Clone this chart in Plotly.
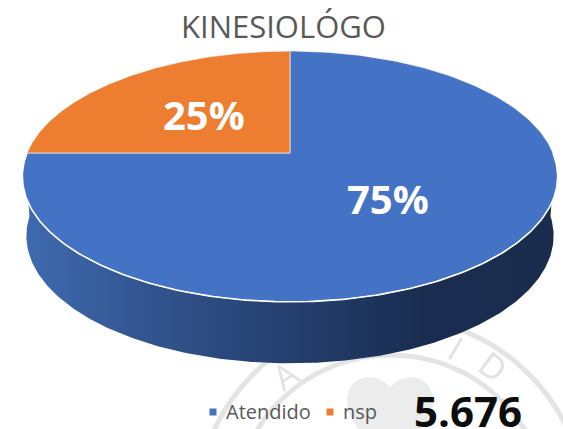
import numpy as np
import plotly.graph_objects as go

categories = ["Atendido", "nsp"]
values = [75, 25]
colors = ["#4472C4", "#ED7D31"]
title_text = "KINESIOLÓGO"
total_label = "5.676"
W, H = 563, 429
FONT = "Open Sans"

# Projection of the unit disc to the page (perspective view of a tilted pie)
def project(u, v, cx=290.0, cy=153.0, a=263.0, b=121.0, k=0.187):
    d = 1 + k * v
    return cx + a * u / d, cy - b * v / d

def rim(t0, t1, n=240, **kw):
    t = np.radians(np.linspace(t0, t1, n))
    return project(np.sin(t), np.cos(t), **kw)

fig = go.Figure()

# watermark (very pale, behind the pie)
WM = "#e4e4e4"
shapes = [
    dict(type="circle", xref="x", yref="y", x0=196, x1=586, y0=317, y1=707,
         line=dict(color=WM, width=5), layer="below"),
    dict(type="circle", xref="x", yref="y", x0=234, x1=548, y0=355, y1=669,
         line=dict(color=WM, width=5), layer="below"),
    dict(type="path", xref="x", yref="y", layer="below", fillcolor="#ececec",
         line=dict(width=0),
         path="M 390 388 C 380 372 347 372 347 402 C 347 428 380 445 390 460 "
              "C 400 445 433 428 433 402 C 433 372 400 372 390 388 Z"),
]

# side wall of the pie (front half): upper rim, then lower rim back
BOTTOM = dict(cy=212.0, a=259.0, b=123.0, k=0.187)
xt, yt = rim(92, 268)
xb, yb = rim(268, 92, **BOTTOM)
fig.add_trace(go.Scatter(
    x=np.r_[xt, xb], y=np.r_[yt, yb], mode="lines", fill="toself",
    line=dict(width=0), showlegend=False, hoverinfo="skip",
    fillgradient=dict(type="horizontal", colorscale=[
        [0, "#3F6AB0"], [0.3, "#2F4F86"], [0.55, "#223B68"],
        [0.75, "#1A2D50"], [1, "#1A2C4E"]]),
))

# top slices, clockwise from 12 o'clock
start = 0.0
for name, val, col in zip(categories, values, colors):
    end = start + 360.0 * val / sum(values)
    x, y = rim(start, end)
    cx, cy = project(0, 0)
    fig.add_trace(go.Scatter(
        x=np.r_[cx, x, cx], y=np.r_[cy, y, cy], mode="lines", fill="toself",
        fillcolor=col, line=dict(color="rgba(255,255,255,0.6)", width=1),
        showlegend=False, hoverinfo="skip"))
    start = end

# bright rim along the front edge
xr, yr = rim(90, 270)
fig.add_trace(go.Scatter(x=xr, y=yr, mode="lines",
                         line=dict(color="white", width=1.6),
                         showlegend=False, hoverinfo="skip"))

annotations = []
for t, x, y, rot in [("A", 285, 375, -35), ("I", 456, 348, 30), ("D", 493, 366, 37)]:
    annotations.append(dict(x=x, y=y, text=t, textangle=rot, showarrow=False,
                            font=dict(family=FONT, size=34, color="#e2e2e2")))

annotations += [
    dict(x=388, y=198, text=f"<b>{values[0]}%</b>", showarrow=False,
         font=dict(family=FONT, size=40, color="white")),
    dict(x=204, y=114, text=f"<b>{values[1]}%</b>", showarrow=False,
         font=dict(family=FONT, size=40, color="white")),
    dict(x=468, y=410, height=36, text=f"<b>{total_label}</b>", showarrow=False,
         font=dict(family=FONT, size=42, color="#0d0d0d")),
    dict(x=283, y=26, text=title_text, showarrow=False,
         font=dict(family=FONT, size=31, color="#595959")),
]

# legend row
legend_swatch_x = [213, 330]
legend_text_x = [226, 343]
for name, col, sx, tx in zip(categories, colors, legend_swatch_x, legend_text_x):
    shapes.append(dict(type="rect", xref="x", yref="y", x0=sx - 3.5, x1=sx + 3.5,
                       y0=408.5, y1=415.5, fillcolor=col, line=dict(width=0)))
    annotations.append(dict(x=tx, y=411, text=name, showarrow=False, xanchor="left",
                            xshift=-2, font=dict(family=FONT, size=20, color="#595959")))

fig.update_layout(
    width=W, height=H, autosize=False, showlegend=False,
    margin=dict(l=0, r=0, t=0, b=0),
    paper_bgcolor="white", plot_bgcolor="rgba(0,0,0,0)",
    xaxis=dict(range=[0, W], visible=False, fixedrange=True),
    yaxis=dict(range=[H, 0], visible=False, fixedrange=True),
    shapes=shapes, annotations=annotations,
)
fig.write_html("out.html", config=dict(displayModeBar=False),
               post_script="document.body.style.margin='0';document.body.style.overflow='hidden';")
